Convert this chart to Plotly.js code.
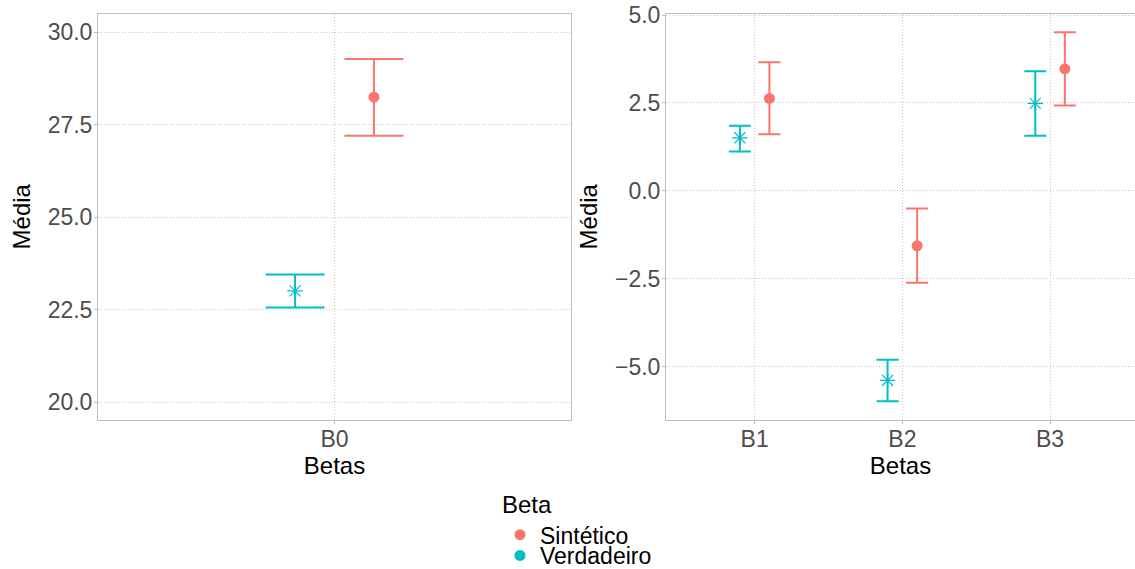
<!DOCTYPE html>
<html>
<head>
<meta charset="utf-8">
<script src="https://cdn.plot.ly/plotly-3.0.1.min.js"></script>
<style>html,body{margin:0;padding:0;background:#fff;}#chart{width:1135px;height:569px;}</style>
</head>
<body>
<div id="chart"></div>
<script>
// ---- data ----
const leftCategories = ['B0'];
const rightCategories = ['B1', 'B2', 'B3'];
const seriesNames = ['Sintético', 'Verdadeiro'];

const sintMeanLeft = [28.24];
const sintLowLeft = [27.20];
const sintHighLeft = [29.27];
const verdMeanLeft = [23.01];
const verdLowLeft = [22.56];
const verdHighLeft = [23.45];

const sintMeanRight = [2.63, -1.56, 3.47];
const sintLowRight = [1.61, -2.61, 2.43];
const sintHighRight = [3.66, -0.50, 4.51];
const verdMeanRight = [1.51, -5.39, 2.49];
const verdLowRight = [1.12, -5.98, 1.57];
const verdHighRight = [1.85, -4.80, 3.40];

// ---- styling ----
const RED = '#F8766D';
const CYAN = '#00BFC4';
const FONT = 'Liberation Sans, Arial, sans-serif';
const DODGE = 0.1;

function pos(cats, off) { return cats.map((c, i) => i + 1 + off); }
function up(mean, hi) { return mean.map((m, i) => hi[i] - m); }
function down(mean, lo) { return mean.map((m, i) => m - lo[i]); }

function sintTrace(cats, mean, lo, hi, xa, ya, capw) {
  return {
    type: 'scatter', mode: 'markers', name: seriesNames[0], showlegend: false,
    x: pos(cats, DODGE), y: mean, xaxis: xa, yaxis: ya,
    marker: { symbol: 'circle', size: 11, color: RED },
    error_y: { type: 'data', symmetric: false, array: up(mean, hi), arrayminus: down(mean, lo),
      color: RED, thickness: 2, width: capw },
    hoverinfo: 'y'
  };
}
function verdTrace(cats, mean, lo, hi, xa, ya, capw) {
  return {
    type: 'scatter', mode: 'markers', name: seriesNames[1], showlegend: false,
    x: pos(cats, -DODGE), y: mean, xaxis: xa, yaxis: ya,
    marker: { symbol: 'asterisk-open', size: 13, color: CYAN, line: { color: CYAN, width: 1.2 } },
    error_y: { type: 'data', symmetric: false, array: up(mean, hi), arrayminus: down(mean, lo),
      color: CYAN, thickness: 2, width: capw },
    hoverinfo: 'y'
  };
}

const traces = [
  verdTrace(leftCategories, verdMeanLeft, verdLowLeft, verdHighLeft, 'x', 'y', 29.5),
  sintTrace(leftCategories, sintMeanLeft, sintLowLeft, sintHighLeft, 'x', 'y', 29.5),
  verdTrace(rightCategories, verdMeanRight, verdLowRight, verdHighRight, 'x2', 'y2', 11),
  sintTrace(rightCategories, sintMeanRight, sintLowRight, sintHighRight, 'x2', 'y2', 11),
  // legend entries
  { type: 'scatter', mode: 'markers', name: seriesNames[0], x: [null], y: [null], xaxis: 'x', yaxis: 'y',
    marker: { symbol: 'circle', size: 11, color: RED }, legend: 'legend', showlegend: true },
  { type: 'scatter', mode: 'markers', name: seriesNames[1], x: [null], y: [null], xaxis: 'x', yaxis: 'y',
    marker: { symbol: 'circle', size: 11, color: CYAN }, legend: 'legend2', showlegend: true }
];

const W = 1135, H = 569;
const ydom = [1 - 419.5 / H, 1 - 14 / H];

function xAxis(domain, range, cats, anchor) {
  return {
    domain: domain, range: range, anchor: anchor,
    tickmode: 'array', tickvals: cats.map((c, i) => i + 1), ticktext: cats,
    showgrid: true, gridcolor: '#C8C8C8', griddash: '1px,2px', gridwidth: 1,
    zeroline: false, showline: true, mirror: true, linecolor: '#BDBDBD', linewidth: 1,
    ticks: 'outside', ticklen: 3, tickcolor: '#BDBDBD', tickwidth: 1, ticklabelstandoff: -4,
    tickfont: { family: FONT, size: 23, color: '#4D4D4D' },
    title: { text: 'Betas', font: { family: FONT, size: 24, color: '#000' }, standoff: 6 },
    fixedrange: true, automargin: false
  };
}
function yAxis(range, anchor) {
  return {
    domain: ydom, range: range, anchor: anchor,
    tickmode: 'linear', dtick: 2.5, tick0: 0, tickformat: '.1f',
    showgrid: true, gridcolor: '#C8C8C8', griddash: '1px,2px', gridwidth: 1,
    zeroline: false, showline: true, mirror: true, linecolor: '#BDBDBD', linewidth: 1,
    ticks: 'outside', ticklen: 3, tickcolor: '#BDBDBD', tickwidth: 1, ticklabelstandoff: -3,
    tickfont: { family: FONT, size: 23, color: '#4D4D4D' },
    title: { text: 'Média', font: { family: FONT, size: 24, color: '#000' }, standoff: 10 },
    fixedrange: true, automargin: false
  };
}

const layout = {
  width: W, height: H,
  margin: { l: 0, r: 0, t: 0, b: 0, autoexpand: false },
  paper_bgcolor: '#fff', plot_bgcolor: '#fff',
  font: { family: FONT, color: '#000' },
  xaxis: xAxis([98 / W, 571 / W], [0.4, 1.6], leftCategories, 'y'),
  yaxis: yAxis([19.535, 30.486], 'x'),
  xaxis2: xAxis([666 / W, 1], [0.4, 3.575], rightCategories, 'y2'),
  yaxis2: yAxis([-6.50, 5.03], 'x2'),
  legend: {
    x: 500 / W, xanchor: 'left', y: 1 - 482 / H, yanchor: 'top',
    title: { text: 'Beta', font: { family: FONT, size: 24, color: '#000' } },
    font: { family: FONT, size: 23, color: '#000' },
    bgcolor: 'rgba(0,0,0,0)', borderwidth: 0, tracegroupgap: 0
  },
  legend2: {
    x: 500 / W, xanchor: 'left', y: -8 / H, yanchor: 'bottom',
    font: { family: FONT, size: 23, color: '#000' },
    bgcolor: 'rgba(0,0,0,0)', borderwidth: 0, tracegroupgap: 0
  },
  showlegend: true
};

Plotly.newPlot('chart', traces, layout, { staticPlot: true, displayModeBar: false });
</script>
</body>
</html>
